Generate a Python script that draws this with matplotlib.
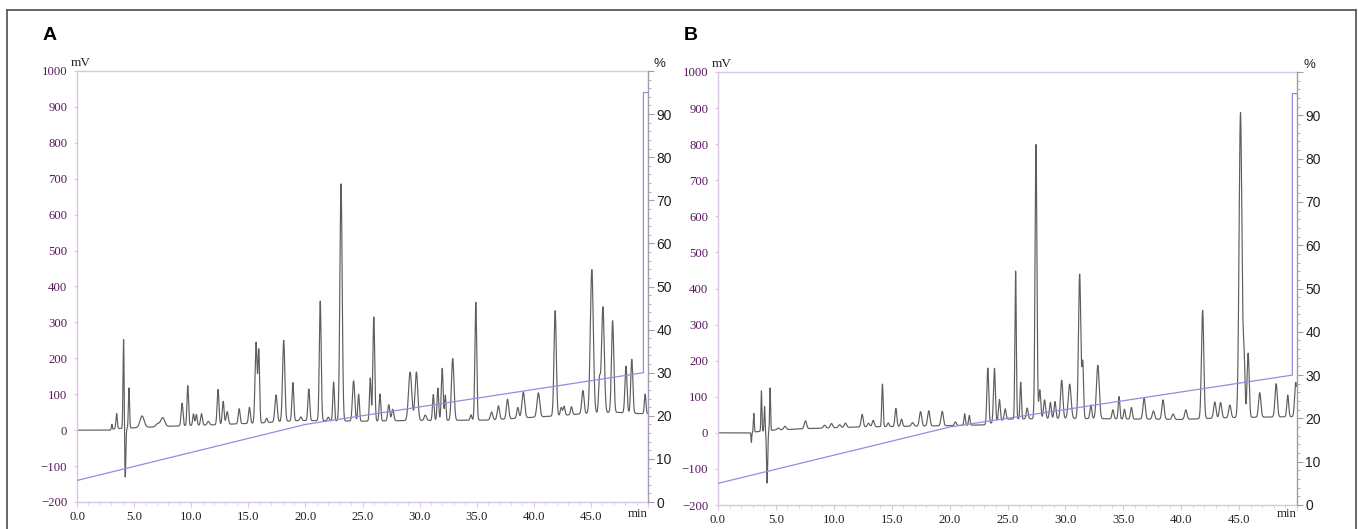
import numpy as np
import matplotlib
matplotlib.use("Agg")
import matplotlib.pyplot as plt
from matplotlib.lines import Line2D
from matplotlib.ticker import MultipleLocator, FixedLocator, FixedFormatter

# ---------------- data ----------------
# Panel A: peaks (retention time [min], height above baseline [mV], width sigma [min])
a_peak_t = [3.05, 3.47, 4.08, 4.22, 4.55, 5.7, 7.05, 7.5, 9.2, 9.7, 10.2, 10.45, 10.9, 11.5,
            12.35, 12.8, 13.15, 14.2, 15.1, 15.68, 15.92, 16.6, 17.43, 18.1, 18.9, 19.6,
            20.3, 21.3, 22.0, 22.47, 23.12, 24.22, 24.66, 25.68, 25.99, 26.53, 27.3, 27.65,
            29.17, 29.72, 30.5, 31.2, 31.6, 31.98, 32.25, 32.9, 34.5, 34.92, 36.3, 36.9,
            37.7, 38.6, 39.08, 40.4, 41.87, 42.4, 42.65, 43.3, 44.3, 45.08, 45.75, 46.05,
            46.9, 48.07, 48.58, 49.75]
a_peak_h = [15, 42, 250, -140, 112, 32, 8, 25, 63, 111, 32, 30, 32, 10,
            98, 64, 35, 42, 45, 225, 200, 12, 75, 226, 107, 10,
            88, 333, 10, 108, 660, 112, 75, 120, 290, 75, 45, 32,
            135, 135, 15, 72, 90, 145, 70, 172, 15, 328, 22, 38,
            55, 30, 72, 67, 293, 22, 25, 22, 65, 400, 90, 295,
            255, 130, 150, 55]
a_peak_w = [0.04, 0.06, 0.05, 0.05, 0.05, 0.18, 0.15, 0.18, 0.08, 0.07, 0.07, 0.07, 0.08, 0.1,
            0.08, 0.08, 0.09, 0.08, 0.08, 0.09, 0.07, 0.08, 0.1, 0.1, 0.08, 0.08,
            0.08, 0.08, 0.08, 0.07, 0.1, 0.1, 0.07, 0.07, 0.08, 0.07, 0.09, 0.09,
            0.14, 0.12, 0.1, 0.07, 0.07, 0.08, 0.06, 0.11, 0.07, 0.08, 0.1, 0.1,
            0.1, 0.09, 0.12, 0.12, 0.1, 0.08, 0.08, 0.08, 0.1, 0.13, 0.08, 0.12,
            0.1, 0.09, 0.09, 0.07]
a_base_t = [0, 2.9, 3.3, 6, 9, 12, 16, 19.5, 25, 30, 36, 38, 42, 44, 47, 50]
a_base_v = [0, 0, 4, 8, 12, 15, 20, 27, 25, 27, 28, 32, 40, 45, 50, 45]

# Panel B
b_peak_t = [2.88, 3.09, 3.75, 4.02, 4.24, 4.5, 5.2, 5.78, 7.55, 9.2, 9.8, 10.5, 11.0,
            12.45, 13.0, 13.4, 14.2, 14.7, 15.36, 15.85, 16.8, 17.49, 18.2, 19.36, 20.5,
            21.3, 21.7, 23.3, 23.87, 24.3, 24.8, 25.7, 26.14, 26.7, 27.46, 27.79, 28.2,
            28.7, 29.1, 29.68, 30.37, 31.23, 31.5, 32.2, 32.8, 34.1, 34.63, 35.1, 35.7,
            36.8, 37.6, 38.43, 39.3, 40.4, 41.85, 42.9, 43.4, 44.2, 45.12, 45.42, 45.78,
            46.78, 48.2, 49.2, 49.9]
b_peak_h = [-27, 52, 112, 68, -145, 118, 5, 9, 22, 8, 12, 8, 12,
            35, 10, 18, 118, 10, 50, 20, 10, 40, 42, 40, 10,
            32, 27, 155, 150, 60, 30, 410, 102, 30, 760, 80, 52,
            45, 47, 106, 95, 400, 150, 38, 148, 25, 62, 27, 32,
            58, 23, 54, 15, 26, 300, 45, 43, 35, 845, 170, 178,
            68, 92, 60, 95]
b_peak_w = [0.03, 0.04, 0.04, 0.04, 0.05, 0.04, 0.1, 0.1, 0.1, 0.1, 0.1, 0.1, 0.1,
            0.09, 0.1, 0.09, 0.06, 0.08, 0.08, 0.08, 0.1, 0.1, 0.1, 0.1, 0.08,
            0.06, 0.06, 0.08, 0.08, 0.08, 0.08, 0.06, 0.06, 0.08, 0.08, 0.08, 0.09,
            0.08, 0.08, 0.1, 0.12, 0.1, 0.07, 0.08, 0.12, 0.08, 0.07, 0.07, 0.08,
            0.1, 0.1, 0.1, 0.1, 0.1, 0.1, 0.1, 0.1, 0.1, 0.12, 0.08, 0.09,
            0.1, 0.1, 0.08, 0.1]
b_base_t = [0, 2.8, 3.3, 5, 8, 12, 20, 23, 25, 30, 40, 44, 50]
b_base_v = [0, 0, 3, 8, 12, 16, 20, 22, 38, 40, 37, 42, 45]

# Solvent gradient (% B) used in both runs
grad_t = [0, 20, 49.6, 49.6, 50]
grad_p = [5, 18, 30, 95, 95]

x_ticks = [0, 5, 10, 15, 20, 25, 30, 35, 40, 45]
x_labels = ["0.0", "5.0", "10.0", "15.0", "20.0", "25.0", "30.0", "35.0", "40.0", "45.0"]
mv_ticks = [-200, -100, 0, 100, 200, 300, 400, 500, 600, 700, 800, 900, 1000]
pct_ticks = [0, 10, 20, 30, 40, 50, 60, 70, 80, 90]

# ---------------- styling ----------------
W, H = 1358, 529
fig = plt.figure(figsize=(W / 100, H / 100), dpi=100)

LAV = "#d9c6df"
RSP = "#a898b0"
PURPLE = "#5a1a60"
TRACE = "#5e5e5e"
GRAD = "#8f8fe0"
SERIF = ["Liberation Serif", "DejaVu Serif"]
SANS = ["Liberation Sans", "DejaVu Sans"]


def trace(peak_t, peak_h, peak_w, base_t, base_v):
    t = np.linspace(0, 49.95, 25000)
    y = np.interp(t, base_t, base_v)
    for t0, h, s in zip(peak_t, peak_h, peak_w):
        y = y + h * np.exp(-0.5 * ((t - t0) / s) ** 2)
    return t, y


def panel(rect_px, pdata, letter, letter_px):
    l, r, top, bot = rect_px
    ax = fig.add_axes([l / W, 1 - bot / H, (r - l) / W, (bot - top) / H])
    t, y = trace(*pdata)
    ax.plot(t, y, color=TRACE, lw=0.85)
    ax.set_xlim(0, 50)
    ax.set_ylim(-200, 1000)
    for s in ["left", "top", "bottom"]:
        ax.spines[s].set_color(LAV)
        ax.spines[s].set_linewidth(1.0)
    ax.spines["right"].set_visible(False)
    ax.yaxis.set_major_locator(FixedLocator(mv_ticks))
    ax.tick_params(axis="y", direction="out", length=2, pad=5, color=LAV,
                   labelcolor=PURPLE, labelsize=9.2)
    for lb in ax.get_yticklabels():
        lb.set_family(SERIF)
    ax.xaxis.set_major_locator(FixedLocator(x_ticks + [50]))
    ax.xaxis.set_major_formatter(FixedFormatter(x_labels + [""]))
    ax.xaxis.set_minor_locator(MultipleLocator(1))
    ax.tick_params(axis="x", which="major", direction="out", length=3.5, pad=3,
                   color=LAV, labelsize=9.2, labelcolor="#222222")
    ax.tick_params(axis="x", which="minor", direction="out", length=2, color=LAV)
    for lb in ax.get_xticklabels():
        lb.set_family(SERIF)

    ax2 = ax.twinx()
    ax2.set_ylim(0, 100)
    ax2.plot(grad_t, grad_p, color=GRAD, lw=0.9)
    for s in ["left", "top", "bottom"]:
        ax2.spines[s].set_visible(False)
    ax2.spines["right"].set_color(RSP)
    ax2.spines["right"].set_linewidth(1.0)
    ax2.yaxis.set_major_locator(FixedLocator(pct_ticks + [100]))
    ax2.yaxis.set_major_formatter(FixedFormatter([str(v) for v in pct_ticks] + [""]))
    ax2.yaxis.set_minor_locator(MultipleLocator(2))
    ax2.tick_params(axis="y", which="major", direction="out", length=4, pad=2,
                    color=RSP, labelsize=10, labelcolor="#222222")
    ax2.tick_params(axis="y", which="minor", direction="out", length=2, color=RSP)
    for lb in ax2.get_yticklabels():
        lb.set_family(SANS)

    # unit labels
    fig.text((l - 6) / W, 1 - (top - 2) / H, "mV", family=SERIF, fontsize=9.5,
             ha="left", va="bottom", color="#222222")
    fig.text((r + 6) / W, 1 - (top - 1) / H, "%", family=SANS, fontsize=9.5,
             ha="left", va="bottom", color="#222222")
    fig.text(r / W, 1 - 514 / H, "min", family=SERIF, fontsize=9.2,
             ha="right", va="center", color="#222222")
    fig.text(letter_px[0] / W, 1 - letter_px[1] / H, letter, family=SANS,
             fontsize=14, fontweight="bold", ha="center", va="center")
    return ax


panel((77, 648, 71, 502), (a_peak_t, a_peak_h, a_peak_w, a_base_t, a_base_v), "A", (50, 36))
panel((718, 1297, 72, 505), (b_peak_t, b_peak_h, b_peak_w, b_base_t, b_base_v), "B", (691, 36))

# outer frame
fc = "#5a5a5a"
fig.add_artist(Line2D([7 / W, 1356 / W], [1 - 10 / H, 1 - 10 / H], color=fc, lw=1.3))
fig.add_artist(Line2D([7 / W, 7 / W], [0, 1 - 10 / H], color=fc, lw=1.3))
fig.add_artist(Line2D([1356 / W, 1356 / W], [0, 1 - 10 / H], color=fc, lw=1.3))

fig.savefig("out.png", dpi=100)
